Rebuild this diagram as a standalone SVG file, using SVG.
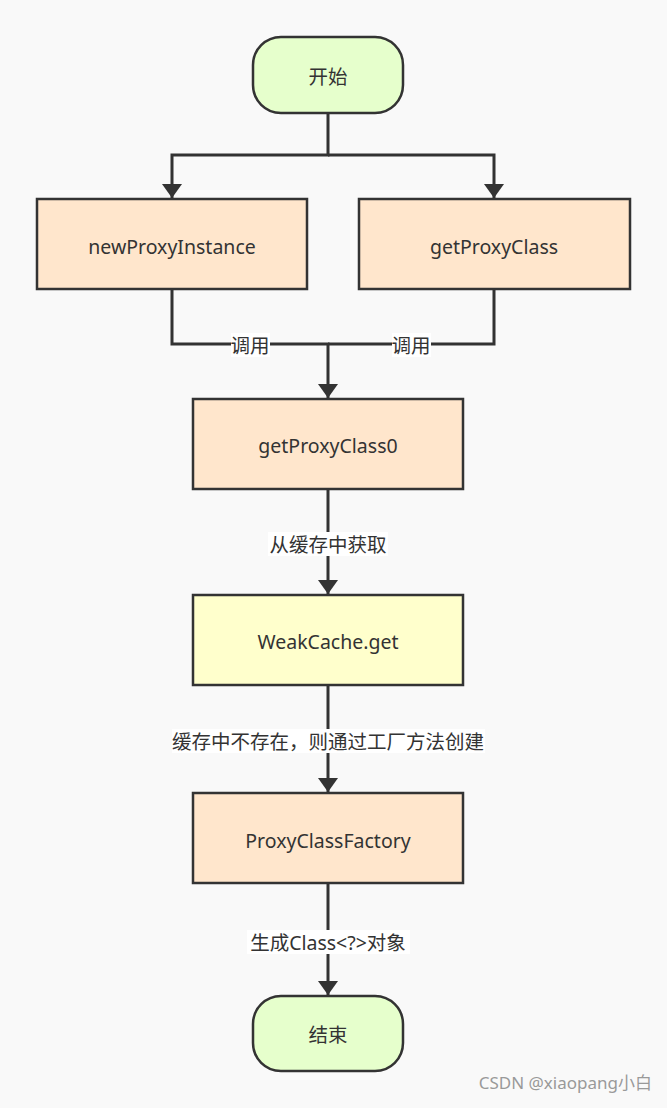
<svg xmlns="http://www.w3.org/2000/svg" width="667" height="1108" viewBox="0 0 667 1108">
<defs>
<style>
.n{stroke:#333;stroke-width:2.5}
.t{font-family:"Noto Sans","Noto Sans CJK SC",sans-serif;font-size:19.5px;fill:#333;text-anchor:middle;dominant-baseline:central}
.e{fill:none;stroke:#333;stroke-width:3}
.lb{fill:#fff}
.l{font-family:"Noto Sans","Noto Sans CJK SC",sans-serif;font-size:19.5px;fill:#333;text-anchor:middle;dominant-baseline:central}
</style>
<marker id="a" viewBox="0 0 14 20" refX="14" refY="10" markerWidth="14" markerHeight="20" markerUnits="userSpaceOnUse" orient="auto">
<path d="M0,0 L14,10 L0,20 Z" fill="#333"/>
</marker>
</defs>
<rect width="667" height="1108" fill="#f9f9f9"/>
<g id="edges">
<path class="e" d="M328,113 V155 H172 V198" marker-end="url(#a)"/>
<path class="e" d="M328,155 H494 V198" marker-end="url(#a)"/>
<path class="e" d="M172,289 V344 H328 V398" marker-end="url(#a)"/>
<path class="e" d="M494,289 V344 H328"/>
<path class="e" d="M328,489 V594" marker-end="url(#a)"/>
<path class="e" d="M328,685 V792" marker-end="url(#a)"/>
<path class="e" d="M328,883 V995" marker-end="url(#a)"/>
<rect class="lb" x="231" y="333" width="39" height="24"/>
<text class="l" x="250" y="345">调用</text>
<rect class="lb" x="392" y="333" width="39" height="24"/>
<text class="l" x="411" y="345">调用</text>
<rect class="lb" x="268" y="532" width="120" height="24"/>
<text class="l" x="328" y="544">从缓存中获取</text>
<rect class="lb" x="172" y="729" width="313" height="24"/>
<text class="l" x="328" y="741">缓存中不存在，则通过工厂方法创建</text>
<rect class="lb" x="247" y="930" width="163" height="24"/>
<text class="l" x="328" y="942">生成Class&lt;?&gt;对象</text>
</g>
<g id="start"><rect class="n" x="253" y="37" width="150" height="76" rx="28" fill="#e6ffcc"/><text class="t" x="328" y="76">开始</text></g>
<g id="newProxyInstance"><rect class="n" x="37" y="199" width="270" height="90" fill="#ffe6cc"/><text class="t" x="172" y="246">newProxyInstance</text></g>
<g id="getProxyClass"><rect class="n" x="359" y="199" width="271" height="90" fill="#ffe6cc"/><text class="t" x="494" y="246">getProxyClass</text></g>
<g id="getProxyClass0"><rect class="n" x="193" y="399" width="270" height="90" fill="#ffe6cc"/><text class="t" x="328" y="445">getProxyClass0</text></g>
<g id="weakCache"><rect class="n" x="193" y="595" width="270" height="90" fill="#ffffcc"/><text class="t" x="328" y="641">WeakCache.get</text></g>
<g id="proxyClassFactory"><rect class="n" x="193" y="793" width="270" height="90" fill="#ffe6cc"/><text class="t" x="328" y="840">ProxyClassFactory</text></g>
<g id="end"><rect class="n" x="253" y="996" width="150" height="75" rx="28" fill="#e6ffcc"/><text class="t" x="328" y="1034">结束</text></g>
<text x="652" y="1089" font-family="Noto Sans,Noto Sans CJK SC,sans-serif" font-size="17" fill="#999" text-anchor="end">CSDN @xiaopang小白</text>
</svg>
